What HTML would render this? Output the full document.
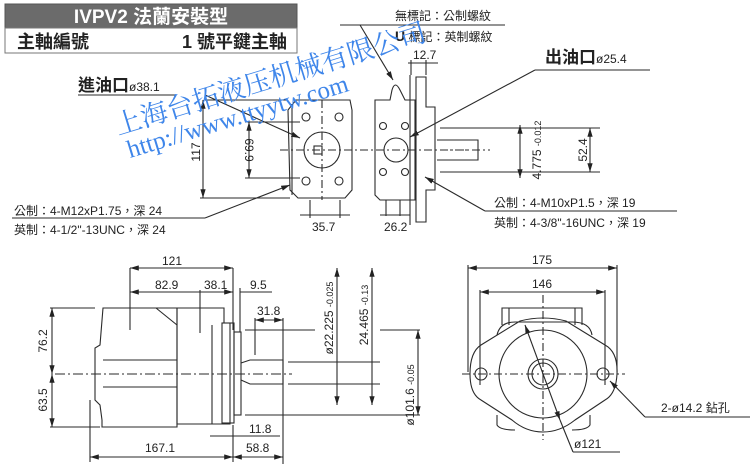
<!DOCTYPE html>
<html><head><meta charset="utf-8"><style>
body{margin:0;background:#fff;}
svg{display:block;font-family:"Liberation Sans","Noto Sans CJK TC",sans-serif;}
</style></head><body>
<svg width="750" height="464" viewBox="0 0 750 464" xmlns="http://www.w3.org/2000/svg">
<defs>
<marker id="a" viewBox="0 0 10 6" refX="10" refY="3" markerWidth="8" markerHeight="5" orient="auto-start-reverse"><path d="M0,0L10,3L0,6z" fill="#222"/></marker>
</defs>
<rect x="5" y="4" width="292" height="24" fill="#6b6b6b" stroke="#555"/>
<text x="151" y="23" font-size="19" fill="#fff" text-anchor="middle" font-weight="bold">IVPV2 法蘭安裝型</text>
<rect x="5" y="28" width="292" height="25" fill="#fff" stroke="#777"/>
<text x="17" y="48" font-size="18" fill="#222" font-weight="bold">主軸編號</text>
<text x="287" y="48" font-size="18" fill="#222" text-anchor="end" font-weight="bold">1 號平鍵主軸</text>

<g stroke="#2a2a2a" fill="none" stroke-width="1.1">
<line x1="78" y1="95" x2="175" y2="95"/>
<line x1="12" y1="218" x2="205" y2="218"/>
<line x1="205" y1="218" x2="290" y2="185" marker-end="url(#a)"/>
<line x1="205" y1="95" x2="300" y2="138" marker-end="url(#a)"/>
<line x1="340" y1="25" x2="505" y2="25"/>
<line x1="360" y1="25" x2="393" y2="80" marker-end="url(#a)"/>
<line x1="535" y1="70" x2="650" y2="70"/>
<line x1="535" y1="70" x2="410" y2="137" marker-end="url(#a)"/>
<line x1="485" y1="211" x2="677" y2="211"/>
<line x1="485" y1="211" x2="425" y2="177" marker-end="url(#a)"/>
<path d="M288,110 L296,100 L350,100 L352,110 L352,190 L345,198 L298,198 L290,190 Z"/>
<line x1="292" y1="104" x2="292" y2="195"/>
<circle cx="322" cy="150" r="18"/>
<rect x="314" y="146" width="8" height="8"/>
<circle cx="306" cy="117" r="4"/><circle cx="339" cy="117" r="4"/>
<circle cx="306" cy="181" r="4"/><circle cx="339" cy="181" r="4"/>
<line x1="280" y1="150" x2="365" y2="150" stroke-dasharray="8,3,2,3"/>
<line x1="322" y1="100" x2="322" y2="200" stroke-dasharray="8,3,2,3"/>
<line x1="205" y1="100" x2="288" y2="100"/><line x1="200" y1="198" x2="290" y2="198"/>
<line x1="203" y1="100" x2="203" y2="198" marker-start="url(#a)" marker-end="url(#a)"/>
<line x1="245" y1="122" x2="300" y2="122"/><line x1="245" y1="178" x2="300" y2="178"/>
<line x1="249" y1="122" x2="249" y2="178" marker-start="url(#a)" marker-end="url(#a)"/>
<line x1="310" y1="200" x2="310" y2="218"/><line x1="340" y1="200" x2="340" y2="218"/>
<line x1="300" y1="215" x2="350" y2="215"/>
<path d="M375,100 L390,100 L392,90 Q395,80 400,90 L405,100 L415,100 L415,200 L400,200 L380,200 L375,195 Z"/>
<path d="M416,77 L426,77 L426,107 L435,107 L435,190 L426,190 L426,222 L416,222 Z"/>
<line x1="410" y1="75" x2="410" y2="225"/>
<circle cx="396" cy="150" r="12"/>
<circle cx="383" cy="126" r="3.5"/><circle cx="405" cy="126" r="3.5"/>
<circle cx="383" cy="172" r="3.5"/><circle cx="405" cy="172" r="3.5"/>
<path d="M437,140 L478,140 L478,160 L437,160"/>
<line x1="445" y1="150" x2="470" y2="150" stroke-dasharray="3,2"/>
<line x1="360" y1="150" x2="490" y2="150" stroke-dasharray="8,3,2,3"/>
<line x1="408" y1="63" x2="438" y2="63" /><line x1="411" y1="60" x2="411" y2="75"/><line x1="426" y1="60" x2="426" y2="75"/>
<line x1="440" y1="128" x2="600" y2="128"/><line x1="440" y1="172" x2="600" y2="172"/>
<line x1="590" y1="128" x2="590" y2="172" marker-start="url(#a)" marker-end="url(#a)"/>
<line x1="520" y1="125" x2="520" y2="178" marker-start="url(#a)" marker-end="url(#a)"/>
<line x1="386" y1="200" x2="386" y2="216"/><line x1="400" y1="200" x2="400" y2="216"/>
<line x1="380" y1="215" x2="410" y2="215"/>

<path d="M100,345 L95,348 L95,400 L100,405 L102,420 L102,427 L177,427 L177,308 L103,308 Z"/>
<path d="M156,308 L177,325"/>
<path d="M177,308 L224,308 L224,323 L230,323 L230,424 L224,424 L177,424 Z"/>
<line x1="212" y1="325" x2="212" y2="424"/>
<rect x="222" y="323" width="12" height="100"/>
<rect x="234" y="332" width="7" height="83"/>
<path d="M241,363 L250,360 L283,360 L283,384 L250,384 L241,380"/>
<line x1="103" y1="360" x2="177" y2="360"/><line x1="103" y1="387" x2="177" y2="387"/>
<line x1="55" y1="374" x2="292" y2="374" stroke-dasharray="10,3,2,3"/>
<line x1="130" y1="268" x2="130" y2="330"/><line x1="233" y1="268" x2="233" y2="330"/>
<line x1="130" y1="268" x2="233" y2="268" marker-start="url(#a)" marker-end="url(#a)"/>
<line x1="130" y1="292" x2="233" y2="292" marker-start="url(#a)" marker-end="url(#a)"/>
<line x1="200" y1="290" x2="200" y2="333"/><line x1="240" y1="288" x2="240" y2="332"/>
<line x1="240" y1="292" x2="272" y2="292"/>
<line x1="255" y1="318" x2="255" y2="355"/><line x1="283" y1="318" x2="283" y2="465"/>
<line x1="255" y1="320" x2="283" y2="320" marker-start="url(#a)" marker-end="url(#a)"/>
<line x1="50" y1="308" x2="95" y2="308"/><line x1="50" y1="427" x2="100" y2="427"/>
<line x1="52" y1="308" x2="52" y2="374" marker-start="url(#a)" marker-end="url(#a)"/>
<line x1="52" y1="374" x2="52" y2="427" marker-start="url(#a)" marker-end="url(#a)"/>
<line x1="90" y1="400" x2="90" y2="462"/><line x1="233" y1="425" x2="233" y2="462"/>
<line x1="90" y1="457" x2="233" y2="457" marker-start="url(#a)" marker-end="url(#a)"/>
<line x1="233" y1="457" x2="283" y2="457" marker-start="url(#a)" marker-end="url(#a)"/>
<line x1="210" y1="436" x2="280" y2="436"/>
<line x1="245" y1="330" x2="315" y2="330"/><line x1="245" y1="415" x2="420" y2="415"/>
<line x1="288" y1="362" x2="380" y2="362"/><line x1="288" y1="384" x2="380" y2="384"/>
<line x1="337" y1="268" x2="337" y2="405" marker-start="url(#a)" marker-end="url(#a)"/>
<line x1="372" y1="268" x2="372" y2="405" marker-start="url(#a)" marker-end="url(#a)"/>
<line x1="380" y1="330" x2="420" y2="330"/>
<line x1="418" y1="330" x2="418" y2="415" marker-start="url(#a)" marker-end="url(#a)"/>

<line x1="468" y1="265" x2="468" y2="372"/><line x1="617" y1="265" x2="617" y2="372"/>
<line x1="468" y1="268" x2="617" y2="268" marker-start="url(#a)" marker-end="url(#a)"/>
<line x1="480" y1="290" x2="480" y2="385"/><line x1="605" y1="290" x2="605" y2="385"/>
<line x1="480" y1="292" x2="605" y2="292" marker-start="url(#a)" marker-end="url(#a)"/>
<path d="M502,325 L502,308 L582,308 L582,325"/><line x1="509" y1="308" x2="509" y2="325"/><line x1="575" y1="308" x2="575" y2="325"/>
<path d="M497,335 Q500,322 515,322 L572,322 Q590,322 592,335"/>
<path d="M520,321 Q543,315 566,321 L605,345 Q618,352 617,374 Q616,394 605,400 L575,420 Q560,432 543,432 Q526,432 512,420 L481,400 Q470,394 470,374 Q470,352 481,345 Z"/>
<path d="M497,415 L497,425 Q500,430 515,430"/><path d="M590,415 L590,425 Q587,430 572,430"/>
<circle cx="543" cy="374" r="44"/>
<circle cx="543" cy="374" r="15"/><circle cx="543" cy="374" r="11"/>
<circle cx="481" cy="374" r="6"/><circle cx="603" cy="374" r="6"/>
<line x1="462" y1="374" x2="625" y2="374" stroke-dasharray="8,3,2,3"/>
<line x1="543" y1="295" x2="543" y2="440" stroke-dasharray="8,3,2,3"/>
<line x1="525" y1="325" x2="560" y2="420" marker-start="url(#a)" marker-end="url(#a)"/>
<line x1="560" y1="420" x2="573" y2="452"/><line x1="573" y1="452" x2="620" y2="452"/>
<line x1="750" y1="417" x2="645" y2="417"/><line x1="645" y1="417" x2="610" y2="381" marker-end="url(#a)"/>
</g>

<g fill="#222" font-size="12">
<text x="78" y="91" font-size="17" font-weight="bold">進油口<tspan font-size="12" font-weight="normal">ø38.1</tspan></text>
<text x="545" y="63" font-size="17" font-weight="bold">出油口<tspan font-size="12" font-weight="normal">ø25.4</tspan></text>
<text x="14" y="215">公制：4-M12xP1.75，深 24</text>
<text x="14" y="234">英制：4-1/2"-13UNC，深 24</text>
<text x="395" y="20">無標記：公制螺紋</text>
<text x="395" y="41"><tspan font-weight="bold" font-size="14">U</tspan> 標記：英制螺紋</text>
<text x="413" y="59">12.7</text>
<text x="494" y="207">公制：4-M10xP1.5，深 19</text>
<text x="494" y="227">英制：4-3/8"-16UNC，深 19</text>
<text x="312" y="231">35.7</text>
<text x="384" y="231">26.2</text>
<text transform="translate(200,152) rotate(-90)" text-anchor="middle">117</text>
<text transform="translate(245,150) rotate(90)" text-anchor="middle">69.9</text>
<text transform="translate(541,150) rotate(-90)" text-anchor="middle">4.775 <tspan font-size="9">-0.012</tspan></text>
<text transform="translate(587,150) rotate(-90)" text-anchor="middle">52.4</text>
<text x="172" y="265" text-anchor="middle">121</text>
<text x="155" y="289">82.9</text>
<text x="204" y="289">38.1</text>
<text x="250" y="289">9.5</text>
<text x="257" y="315">31.8</text>
<text transform="translate(47,341) rotate(-90)" text-anchor="middle">76.2</text>
<text transform="translate(47,400) rotate(-90)" text-anchor="middle">63.5</text>
<text x="160" y="452" text-anchor="middle">167.1</text>
<text x="246" y="452">58.8</text>
<text x="249" y="433">11.8</text>
<text transform="translate(333,318) rotate(-90)" text-anchor="middle">ø22.225 <tspan font-size="9">-0.025</tspan></text>
<text transform="translate(368,315) rotate(-90)" text-anchor="middle">24.465 <tspan font-size="9">-0.13</tspan></text>
<text transform="translate(414,395) rotate(-90)" text-anchor="middle">ø101.6 <tspan font-size="9">-0.05</tspan></text>
<text x="542" y="264" text-anchor="middle">175</text>
<text x="542" y="288" text-anchor="middle">146</text>
<text x="661" y="412">2-ø14.2 鉆孔</text>
<text x="574" y="448">ø121</text>
</g>
<g fill="#3f86ea" font-family="'Noto Serif CJK SC',serif">
<text transform="translate(118,135) rotate(-17)" font-size="27">上海台拓液压机械有限公司</text>
<text transform="translate(130,158) rotate(-17)" font-size="25" font-family="'Liberation Serif',serif">http://www.ttyytw.com</text>
</g>
</svg>
</body></html>
